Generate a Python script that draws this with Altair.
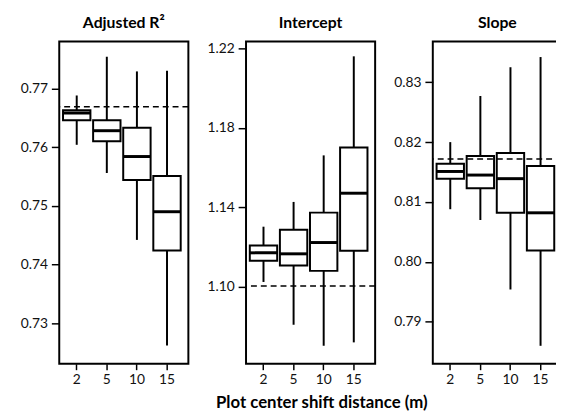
import altair as alt
import pandas as pd

categories = ["2", "5", "10", "15"]

r2_low = [0.7604, 0.7556, 0.7442, 0.7262]
r2_q1 = [0.7646, 0.7610, 0.7544, 0.7424]
r2_median = [0.7658, 0.7628, 0.7584, 0.7490]
r2_q3 = [0.7663, 0.7646, 0.7633, 0.7551]
r2_high = [0.7688, 0.7754, 0.7729, 0.7730]
r2_ref = 0.7669
r2_ticks = [0.73, 0.74, 0.75, 0.76, 0.77]
r2_domain = [0.7231, 0.7780]

int_low = [1.1023, 1.0807, 1.0701, 1.0718]
int_q1 = [1.1130, 1.1106, 1.1079, 1.1180]
int_median = [1.1170, 1.1165, 1.1222, 1.1471]
int_q3 = [1.1207, 1.1286, 1.1373, 1.1702]
int_high = [1.1302, 1.1427, 1.1662, 1.2162]
int_ref = 1.1003
int_ticks = [1.10, 1.14, 1.18, 1.22]
int_domain = [1.061, 1.2237]

slope_low = [0.8088, 0.8070, 0.7954, 0.7860]
slope_q1 = [0.8139, 0.8123, 0.8082, 0.8019]
slope_median = [0.8151, 0.8145, 0.8139, 0.8082]
slope_q3 = [0.8164, 0.8177, 0.8182, 0.8160]
slope_high = [0.8200, 0.8277, 0.8325, 0.8342]
slope_ref = 0.8172
slope_ticks = [0.79, 0.80, 0.81, 0.82, 0.83]
slope_domain = [0.7830, 0.8368]

PANEL_W = 131
PANEL_H = 327


def panel(title, low, q1, med, q3, high, ref, ticks, domain):
    df = pd.DataFrame({"dist": categories, "low": low, "q1": q1,
                       "median": med, "q3": q3, "high": high})
    xscale = alt.Scale(domain=categories, paddingInner=0.09,
                       paddingOuter=0.19, align=0.33)
    xaxis = alt.Axis(title=None, labelAngle=0)
    x = alt.X("dist:N", sort=categories, scale=xscale, axis=xaxis)
    yscale = alt.Scale(domain=domain, nice=False, zero=False)
    yaxis = alt.Axis(values=ticks, format=".2f", title=None)

    def Y(f):
        return alt.Y(f, type="quantitative", scale=yscale, axis=yaxis, title=None)

    base = alt.Chart(df)
    lower = base.mark_rule(color="black", strokeWidth=2).encode(
        x=x, y=Y("low"), y2="q1")
    upper = base.mark_rule(color="black", strokeWidth=2).encode(
        x=x, y=Y("q3"), y2="high")
    box = base.mark_bar(fill="white", stroke="black", strokeWidth=2,
                        opacity=1).encode(x=x, y=Y("q1"), y2="q3")
    medline = base.mark_tick(color="black", thickness=3, size=28,
                             opacity=1).encode(x=x, y=Y("median"))
    refline = alt.Chart(pd.DataFrame({"ref": [ref]})).mark_rule(
        color="black", strokeWidth=1.5, strokeDash=[6, 4]).encode(y=Y("ref"))
    return alt.layer(lower, upper, box, medline, refline).properties(
        width=PANEL_W, height=PANEL_H, title=title)


p1 = panel("Adjusted R²", r2_low, r2_q1, r2_median, r2_q3, r2_high,
           r2_ref, r2_ticks, r2_domain)
p2 = panel("Intercept", int_low, int_q1, int_median, int_q3, int_high,
           int_ref, int_ticks, int_domain)
p3 = panel("Slope", slope_low, slope_q1, slope_median, slope_q3, slope_high,
           slope_ref, slope_ticks, slope_domain)

chart = alt.hconcat(
    p1, p2, p3, spacing=11.5,
    title=alt.TitleParams("Plot center shift distance (m)", orient="bottom",
                          anchor="middle", dx=33, offset=8, fontSize=17,
                          fontWeight="bold", color="black"),
).properties(
    padding={"left": 7, "top": 3, "right": -8, "bottom": 0}
).configure(
    font="Lato"
).configure_view(
    stroke="black", strokeWidth=2
).configure_axis(
    domain=False, grid=False, labelFontSize=14, labelColor="#111",
    tickColor="black", tickWidth=1.5, labelFont="Lato"
).configure_axisY(
    tickSize=8, labelPadding=4, minExtent=44, maxExtent=44
).configure_axisX(
    tickSize=6, labelPadding=3
).configure_title(
    fontSize=16, fontWeight="bold", anchor="middle", color="black", offset=11
)

chart.save("out.html", embed_options={"renderer": "svg", "actions": False})
